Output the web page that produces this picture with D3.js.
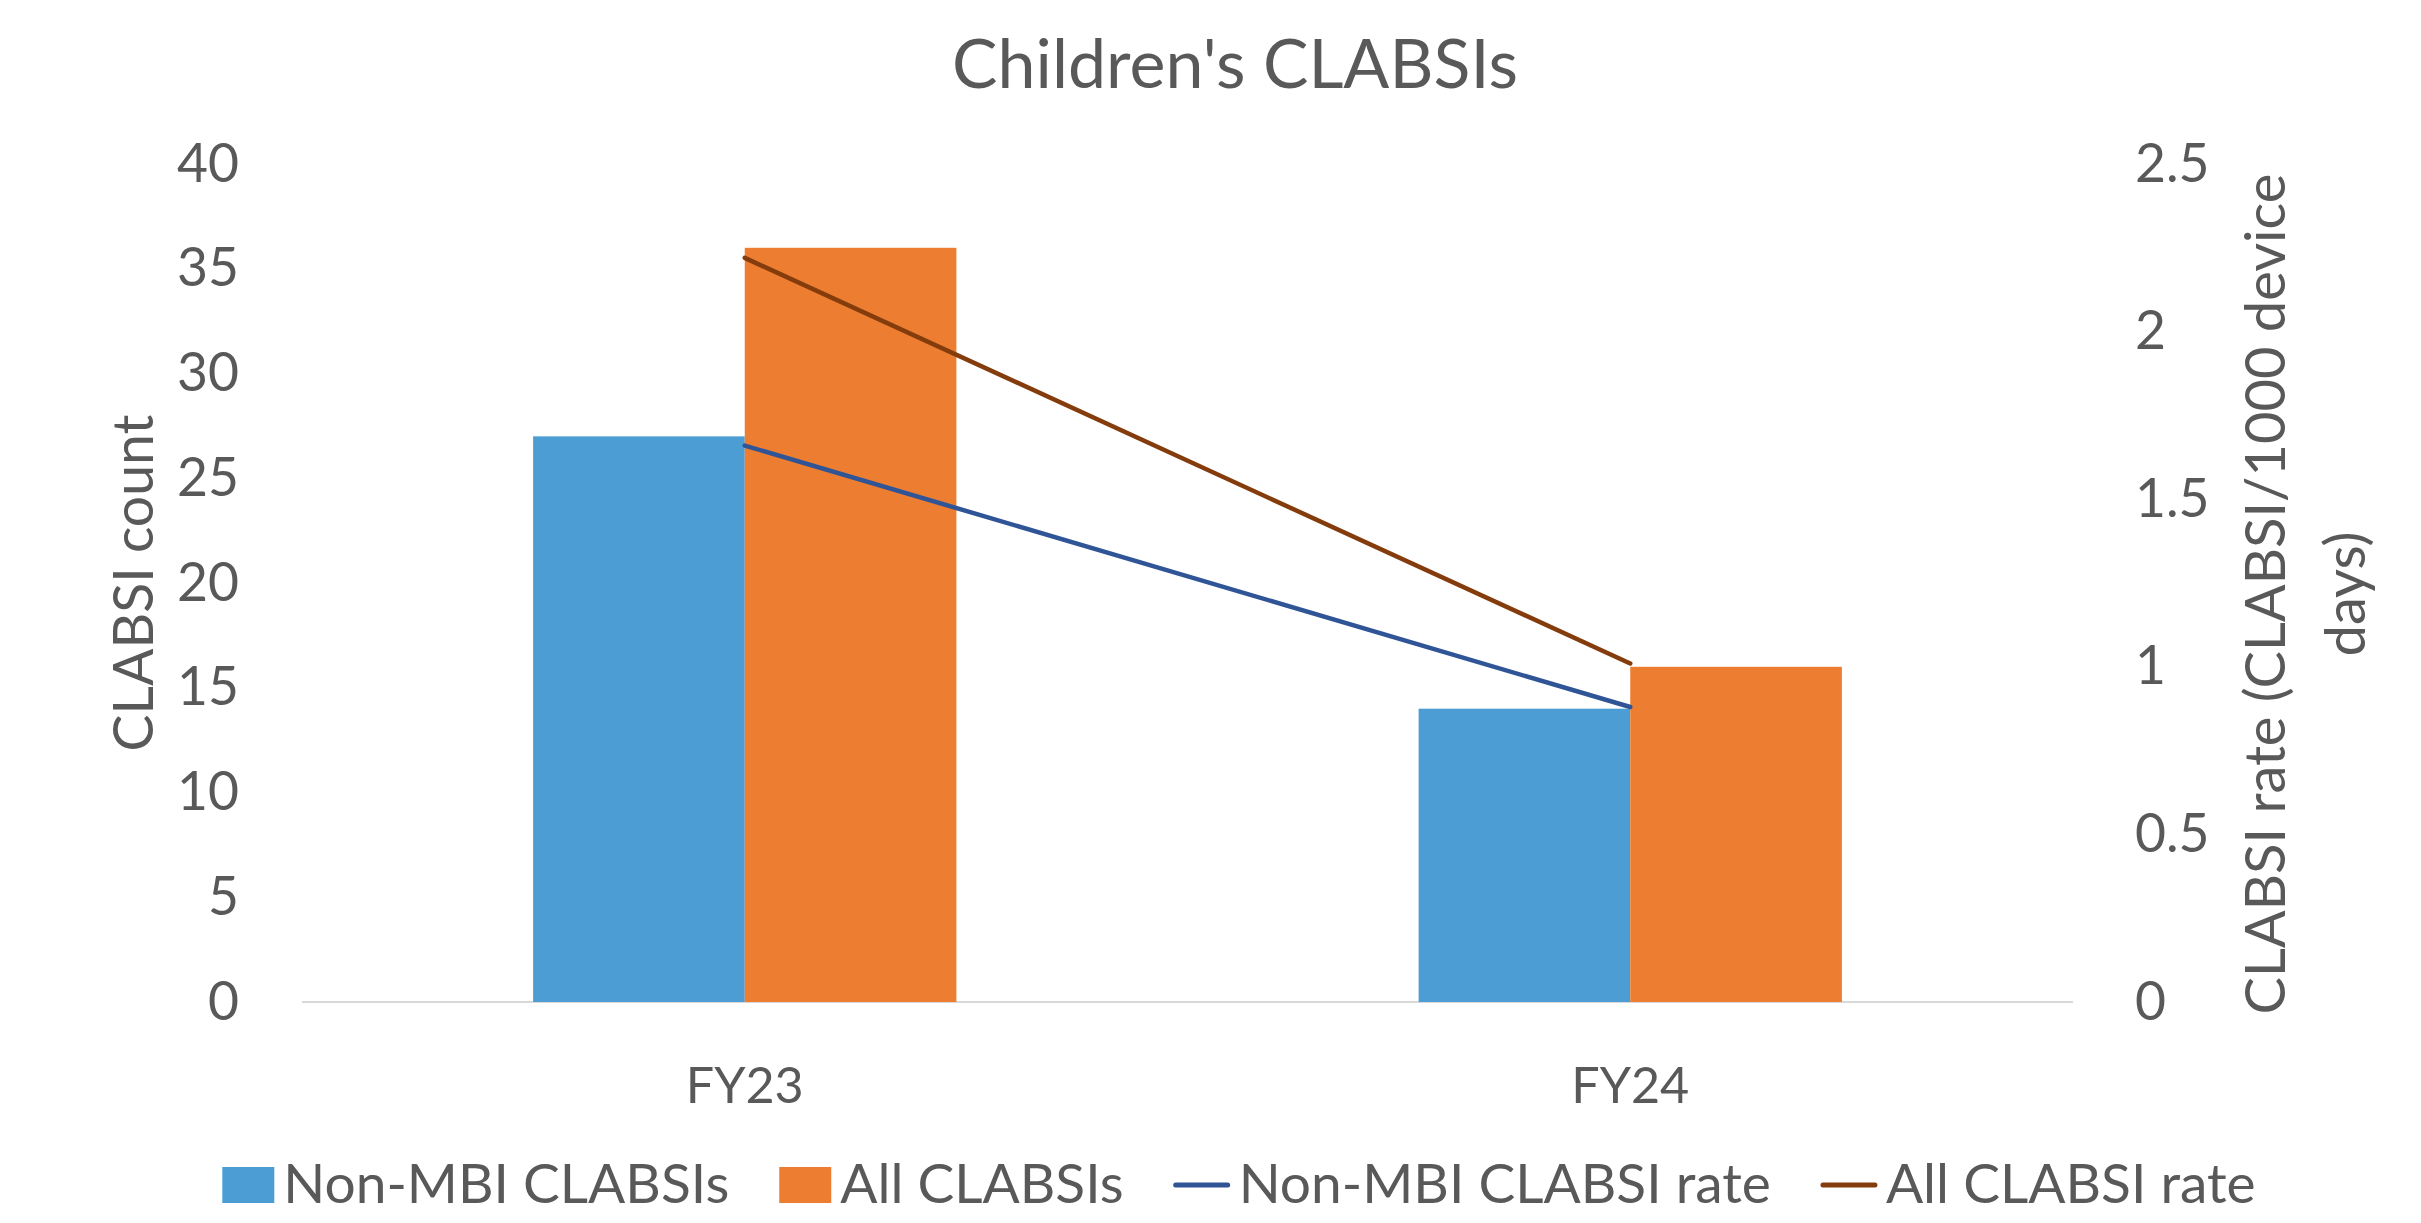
<!DOCTYPE html>
<html>
<head>
<meta charset="utf-8">
<title>Children's CLABSIs</title>
<script src="https://cdn.jsdelivr.net/npm/d3@7"></script>
<style>
  html, body { margin: 0; padding: 0; background: #ffffff; }
  svg { display: block; }
</style>
</head>
<body>
<div id="chart"></div>
<script>
// Chart data
const categories = ["FY23", "FY24"];
const nonMbiCounts = [27, 14];
const allCounts = [36, 16];
const nonMbiRates = [1.66, 0.88];
const allRates = [2.22, 1.01];
const countTicks = [0, 5, 10, 15, 20, 25, 30, 35, 40];
const rateTicks = [0, 0.5, 1, 1.5, 2, 2.5];
const seriesNames = ["Non-MBI CLABSIs", "All CLABSIs", "Non-MBI CLABSI rate", "All CLABSI rate"];
const titleText = "Children's CLABSIs";
const leftTitle = "CLABSI count";
const rightTitleLines = ["CLABSI rate (CLABSI/1000 device", "days)"];

// Layout and style
const W = 2421, H = 1223;
const FONT = "Lato, 'Open Sans', sans-serif";
const TEXT = "#595959";
const C_BAR1 = "#4B9DD4", C_BAR2 = "#ED7D31";
const C_LINE1 = "#2F5597", C_LINE2 = "#843C0C";
const plot = { left: 302, right: 2073, top: 164, bottom: 1002 };

const svg = d3.select("#chart").append("svg")
  .attr("width", W).attr("height", H)
  .style("font-family", FONT);

// font size that makes a string span the given width
function fitSize(str, width) {
  const t = svg.append("text").style("font-family", FONT).style("font-size", "100px").text(str);
  const w = t.node().getComputedTextLength();
  t.remove();
  return 100 * width / w;
}

const x0 = d3.scaleBand().domain(categories)
  .range([plot.left, plot.right]).paddingInner(0.522).paddingOuter(0.261);
const x1 = d3.scaleBand().domain([0, 1]).range([0, x0.bandwidth()]);
const yCount = d3.scaleLinear().domain([0, 40]).range([plot.bottom, plot.top]);
const yRate = d3.scaleLinear().domain([0, 2.5]).range([plot.bottom, plot.top]);

const tickSize = fitSize("40", 62);

// baseline
svg.append("line")
  .attr("x1", plot.left).attr("x2", plot.right)
  .attr("y1", yCount(0)).attr("y2", yCount(0))
  .attr("stroke", "#D9D9D9").attr("stroke-width", 2);

// bars
const barSeries = [nonMbiCounts, allCounts];
const barColors = [C_BAR1, C_BAR2];
barSeries.forEach((vals, si) => {
  svg.append("g").selectAll("rect").data(vals).join("rect")
    .attr("x", (d, i) => x0(categories[i]) + x1(si))
    .attr("width", x1.bandwidth())
    .attr("y", d => yCount(d))
    .attr("height", d => yCount(0) - yCount(d))
    .attr("fill", barColors[si]);
});

// rate lines
const lineGen = d3.line()
  .x((d, i) => x0(categories[i]) + x0.bandwidth() / 2)
  .y(d => yRate(d));
[[nonMbiRates, C_LINE1], [allRates, C_LINE2]].forEach(([vals, col]) => {
  svg.append("path").datum(vals)
    .attr("d", lineGen)
    .attr("fill", "none").attr("stroke", col)
    .attr("stroke-width", 4.5).attr("stroke-linecap", "round").attr("stroke-linejoin", "round");
});

// left axis
const gl = svg.append("g").attr("transform", `translate(${plot.left},0)`)
  .call(d3.axisLeft(yCount).tickValues(countTicks).tickSize(0).tickPadding(63));
gl.select(".domain").remove();
gl.selectAll("text").style("font-family", FONT).style("font-size", tickSize + "px").attr("fill", TEXT);

// right axis
const gr = svg.append("g").attr("transform", `translate(${plot.right},0)`)
  .call(d3.axisRight(yRate).tickValues(rateTicks).tickSize(0).tickPadding(62).tickFormat(d => String(d)));
gr.select(".domain").remove();
gr.selectAll("text").style("font-family", FONT).style("font-size", tickSize + "px").attr("fill", TEXT);

// category axis
const catSize = fitSize("FY23", 118);
const gb = svg.append("g").attr("transform", `translate(0,${plot.bottom})`)
  .call(d3.axisBottom(x0).tickSize(0));
gb.select(".domain").remove();
gb.selectAll("text").style("font-family", FONT).style("font-size", catSize + "px")
  .attr("fill", TEXT).attr("y", 101).attr("dy", 0);

// title
svg.append("text")
  .attr("x", 1235).attr("y", 88)
  .attr("text-anchor", "middle")
  .style("font-size", fitSize(titleText, 566) + "px")
  .attr("fill", TEXT).text(titleText);

// axis titles
svg.append("text")
  .attr("transform", `translate(153,${(plot.top + plot.bottom) / 2}) rotate(-90)`)
  .attr("text-anchor", "middle")
  .style("font-size", fitSize(leftTitle, 337) + "px")
  .attr("fill", TEXT).text(leftTitle);

const rtSize = fitSize(rightTitleLines[0], 841);
const rt = svg.append("text")
  .attr("transform", `translate(2285,594) rotate(-90)`)
  .attr("text-anchor", "middle")
  .style("font-size", rtSize + "px")
  .attr("fill", TEXT);
rightTitleLines.forEach((s, i) => {
  rt.append("tspan").attr("x", 0).attr("y", i * 80).text(s);
});

// legend
const legSize = fitSize(seriesNames[0], 446);
const legend = svg.append("g");
const legBase = 1203;
let cx = 0;
seriesNames.forEach((name, i) => {
  const g = legend.append("g").attr("transform", `translate(${cx},0)`);
  let keyW;
  if (i < 2) {
    keyW = 52;
    g.append("rect").attr("x", 0).attr("y", legBase - 36).attr("width", 52).attr("height", 36)
      .attr("fill", barColors[i]);
  } else {
    keyW = 56;
    g.append("line").attr("x1", 2).attr("x2", keyW - 2)
      .attr("y1", legBase - 18).attr("y2", legBase - 18)
      .attr("stroke", i === 2 ? C_LINE1 : C_LINE2)
      .attr("stroke-width", 5).attr("stroke-linecap", "round");
  }
  const t = g.append("text").attr("x", keyW + 9).attr("y", legBase)
    .style("font-size", legSize + "px").attr("fill", TEXT).text(name);
  cx += keyW + 9 + t.node().getComputedTextLength() + 50;
});
const legW = cx - 50;
legend.attr("transform", `translate(${1239 - legW / 2},0)`);
</script>
</body>
</html>
